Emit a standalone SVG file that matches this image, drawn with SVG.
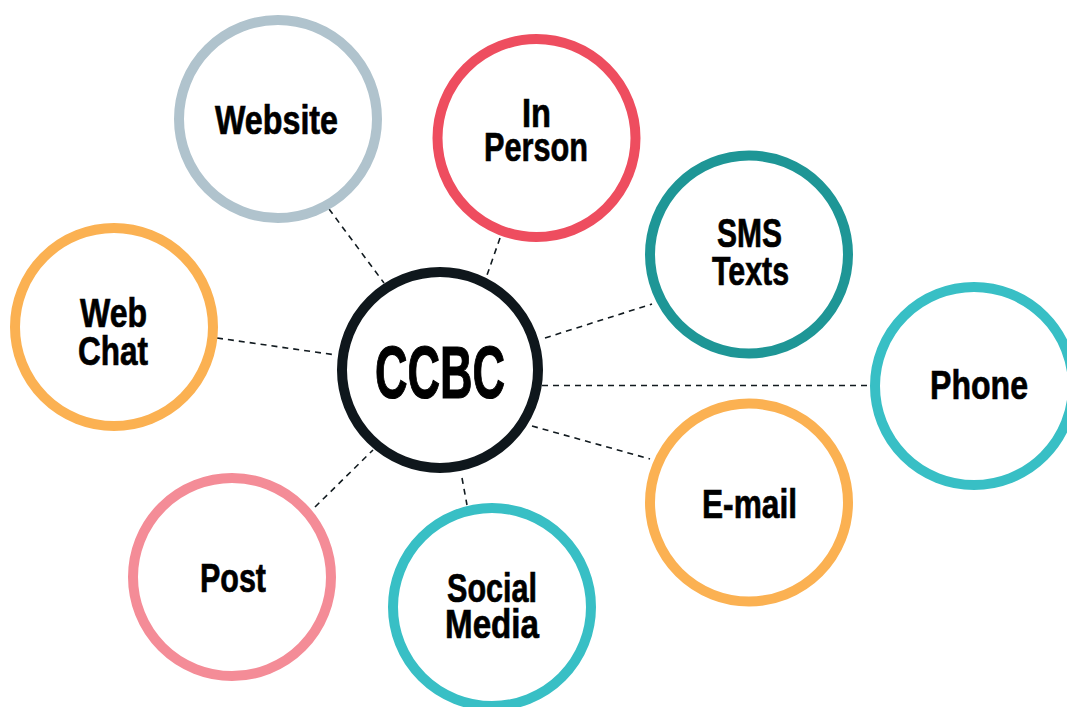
<svg xmlns="http://www.w3.org/2000/svg" width="1067" height="707" viewBox="0 0 1067 707">
<style>
.bg{fill:#ffffff}
.node{fill:#ffffff;stroke-width:10}
.lbl{font-family:"Liberation Sans",Arial,sans-serif;font-weight:bold;font-size:41px;fill:#000000;stroke:#000000;stroke-width:0.7;text-anchor:middle}
.big{font-size:74px;stroke-width:1.2}
.conn{stroke:#111a1f;stroke-width:1.6;stroke-dasharray:6 5;fill:none}
</style>
<rect class="bg" x="0" y="0" width="1067" height="707"/>
<g id="connectors">
<line class="conn" x1="329" y1="209" x2="384" y2="283"/>
<line class="conn" x1="500" y1="238" x2="486" y2="278"/>
<line class="conn" x1="545" y1="338" x2="652" y2="304"/>
<line class="conn" x1="542" y1="385.5" x2="873" y2="385.5"/>
<line class="conn" x1="532" y1="426" x2="650" y2="459"/>
<line class="conn" x1="217" y1="338" x2="336" y2="355"/>
<line class="conn" x1="315" y1="507" x2="373" y2="450"/>
<line class="conn" x1="462" y1="478" x2="467" y2="505"/>
</g>
<g id="website">
<circle class="node" cx="278" cy="119" r="99" stroke="#b0c3cd"/>
<text class="lbl" x="276.5" y="134" textLength="123" lengthAdjust="spacingAndGlyphs">Website</text>
</g>
<g id="inperson">
<circle class="node" cx="536.5" cy="138" r="99" stroke="#ee4d5f"/>
<text class="lbl" x="536.5" y="127" textLength="29" lengthAdjust="spacingAndGlyphs">In</text>
<text class="lbl" x="536" y="161" textLength="104" lengthAdjust="spacingAndGlyphs">Person</text>
</g>
<g id="sms">
<circle class="node" cx="749" cy="254.5" r="99" stroke="#1e9696"/>
<text class="lbl" x="749.5" y="247" textLength="65" lengthAdjust="spacingAndGlyphs">SMS</text>
<text class="lbl" x="750.5" y="285" textLength="77" lengthAdjust="spacingAndGlyphs">Texts</text>
</g>
<g id="webchat">
<circle class="node" cx="114" cy="327" r="99" stroke="#fbb152"/>
<text class="lbl" x="113.5" y="327" textLength="67" lengthAdjust="spacingAndGlyphs">Web</text>
<text class="lbl" x="113" y="365" textLength="70" lengthAdjust="spacingAndGlyphs">Chat</text>
</g>
<g id="phone">
<circle class="node" cx="974" cy="386" r="99" stroke="#38bfc5"/>
<text class="lbl" x="979" y="399" textLength="98" lengthAdjust="spacingAndGlyphs">Phone</text>
</g>
<g id="email">
<circle class="node" cx="749" cy="502.5" r="99" stroke="#fbb152"/>
<text class="lbl" x="749.5" y="518" textLength="95" lengthAdjust="spacingAndGlyphs">E-mail</text>
</g>
<g id="post">
<circle class="node" cx="232" cy="577" r="99" stroke="#f48c97"/>
<text class="lbl" x="233" y="592" textLength="66" lengthAdjust="spacingAndGlyphs">Post</text>
</g>
<g id="social">
<circle class="node" cx="492" cy="607" r="99" stroke="#38bfc5"/>
<text class="lbl" x="492" y="602" textLength="90" lengthAdjust="spacingAndGlyphs">Social</text>
<text class="lbl" x="492" y="638" textLength="94" lengthAdjust="spacingAndGlyphs">Media</text>
</g>
<g id="ccbc">
<circle class="node" cx="440" cy="370" r="98" stroke="#0f171c" stroke-width="11"/>
<text class="lbl big" x="440" y="398" textLength="130" lengthAdjust="spacingAndGlyphs">CCBC</text>
</g>
</svg>
